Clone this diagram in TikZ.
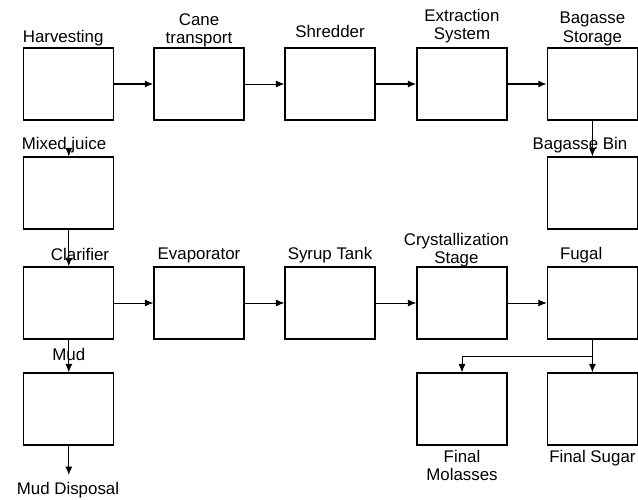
\documentclass[tikz,border=0pt]{standalone}
\usepackage{fontspec}
\setmainfont{Liberation Sans}
\usetikzlibrary{positioning,arrows.meta,calc}

\tikzset{
  unit/.style={draw,line width=0.9pt,minimum width=2.25cm,minimum height=1.8cm,inner sep=0pt},
  tag/.style={font=\fontsize{12}{13}\selectfont,align=center,inner sep=1pt},
  flow/.style={->,line width=0.7pt},
  mainflow/.style={->,line width=1.1pt},
}

\begin{document}
\begin{tikzpicture}[>={Latex[length=6pt,width=5pt]},scale=1.0]
  \useasboundingbox (0,0) rectangle (15.95,12.5);
  \def\ya{10.4}\def\yb{7.675}\def\yc{4.925}\def\yd{2.275}
  % row 1: cane handling
  \node[unit] (harv)  at (1.72,\ya) {};
  \node[unit] (cane)  at (4.975,\ya) {};
  \node[unit] (shred) at (8.25,\ya) {};
  \node[unit] (extr)  at (11.55,\ya) {};
  \node[unit] (store) at (14.81,\ya) {};
  \node[tag,above=0pt of harv,xshift=-4pt] (lharv) {Harvesting};
  \node[tag,above=-1pt of cane] (lcane) {Cane\\transport};
  \node[tag,above=6pt of shred] (lshred) {Shredder};
  \node[tag,above=2pt of extr] (lextr) {Extraction\\System};
  \node[tag,above=0pt of store] (lstore) {Bagasse\\Storage};
  \draw[mainflow] (harv.east) -- (cane.west);
  \draw[flow] (cane.east) -- (shred.west);
  \draw[mainflow] (shred.east) -- (extr.west);
  \draw[mainflow] (extr.east) -- (store.west);
  % row 2
  \node[unit] (mix) at (1.72,\yb) {};
  \node[unit] (bin) at (14.81,\yb) {};
  \node[tag] (lmix) at (1.6,8.875) {Mixed juice};
  \node[tag] (lbin) at (14.5,8.875) {Bagasse Bin};
  \draw[flow] (lmix.south -| mix.north) -- (mix.north);
  \draw[flow] (store.south) -- (bin.north);
  % row 3: juice line
  \node[unit] (clar)  at (1.72,\yc) {};
  \node[unit] (evap)  at (4.975,\yc) {};
  \node[unit] (syrup) at (8.25,\yc) {};
  \node[unit] (cryst) at (11.55,\yc) {};
  \node[unit] (fugal) at (14.81,\yc) {};
  \node[tag,above=3pt of clar,xshift=8pt] (lclar) {Clarifier};
  \node[tag,above=1pt of evap] (levap) {Evaporator};
  \node[tag,above=1pt of syrup] (lsyrup) {Syrup Tank};
  \node[tag,above=-2pt of cryst,xshift=-4pt] (lcryst) {Crystallization\\Stage};
  \node[tag,above=1pt of fugal,xshift=-8pt] (lfugal) {Fugal};
  \draw[flow] (mix.south) -- (clar.north);
  \draw[flow] (clar.east) -- (evap.west);
  \draw[flow] (evap.east) -- (syrup.west);
  \draw[flow] (syrup.east) -- (cryst.west);
  \draw[flow] (cryst.east) -- (fugal.west);
  % row 4: products
  \node[unit] (mud)   at (1.72,\yd) {};
  \node[unit] (molas) at (11.55,\yd) {};
  \node[unit] (sugar) at (14.81,\yd) {};
  \node[tag,above=7pt of mud] (lmud) {Mud};
  \node[tag,below=2pt of molas] (lmolas) {Final\\Molasses};
  \node[tag,below=2pt of sugar] (lsugar) {Final Sugar};
  \coordinate (mudend) at (1.72,0.625);
  \node[tag] (ldisp) at (1.7,0.25) {Mud Disposal};
  \draw[flow] (clar.south) -- (mud.north);
  \draw[flow] (mud.south) -- (mudend);
  \coordinate (split) at ($(fugal.south)!0.5!(sugar.north)$);
  \draw[flow] (fugal.south) -- (sugar.north);
  \draw[flow] (split) -| (molas.north);
\end{tikzpicture}
\end{document}
